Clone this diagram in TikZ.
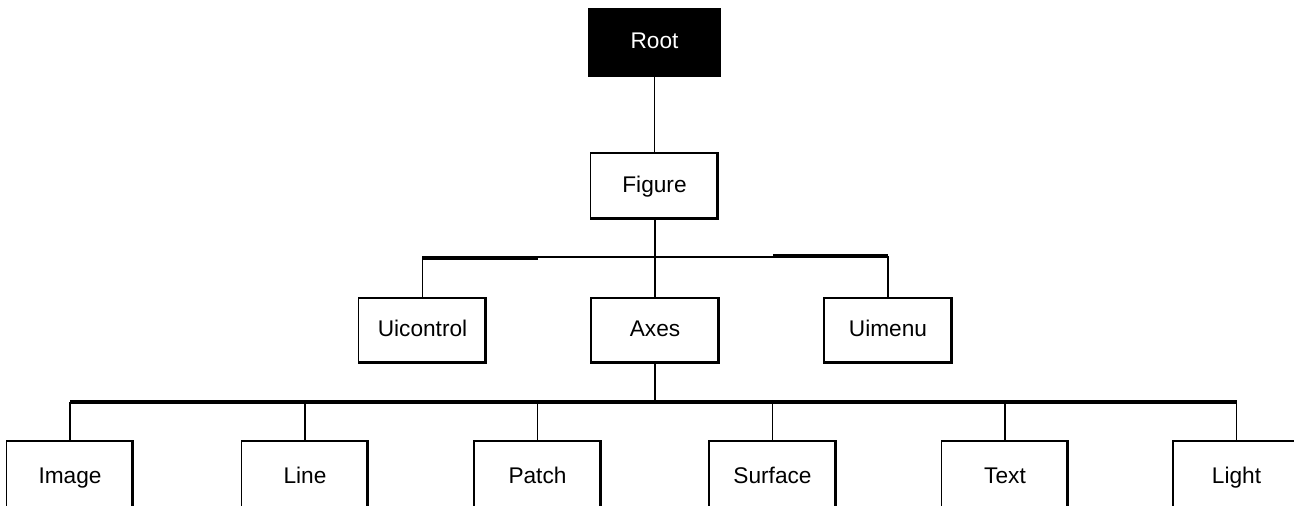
\documentclass[tikz,border=0pt]{standalone}
\usepackage{fontspec}
\setmainfont{Liberation Sans}
\begin{document}
\begin{tikzpicture}[x=0.75pt,y=-0.75pt,
  thin line/.style={line width=1.3*0.75pt, draw=black},
  thick line/.style={line width=3.5*0.75pt, draw=black},
  box/.style={draw=black, line width=1.3*0.75pt, fill=white, inner sep=0pt,
    minimum width=128*0.75pt, minimum height=65*0.75pt,
    text height=12pt, text depth=3pt,
    font=\fontsize{17}{20}\selectfont},
  rootbox/.style={box, fill=black, text=white},
  leaf/.style={box, minimum width=127*0.75pt, minimum height=72*0.75pt}]
\useasboundingbox (0,0) rectangle (1294,506);
% nodes
\node[rootbox, minimum width=131*0.75pt, minimum height=67*0.75pt] (root) at (654.5,42.5) {Root};
\node[box, minimum height=66*0.75pt] (fig) at (654.5,186) {Figure};
\node[box] (uic) at (422.5,330.5) {Uicontrol};
\node[box] (axes) at (655,330.5) {Axes};
\node[box] (uim) at (888,330.5) {Uimenu};
\node[leaf] (img) at (70,477) {Image};
\node[leaf] (line) at (305,477) {Line};
\node[leaf] (patch) at (537.5,477) {Patch};
\node[leaf] (surf) at (772.5,477) {Surface};
\node[leaf] (text) at (1005,477) {Text};
\node[leaf] (light) at (1236.5,477) {Light};
% shadows
\foreach \n in {fig,uic,axes,uim,img,line,patch,surf,text,light}{
  \draw[line width=3*0.75pt] ([xshift=0.75pt,yshift=1.5*0.75pt]\n.south west) -- ([xshift=-1.5*0.75pt,yshift=1.5*0.75pt]\n.south east) -- ([xshift=-1.5*0.75pt]\n.north east);
}
% coordinates of buses
\coordinate (b2) at (655,257);
\coordinate (b3) at (655,402);
\coordinate (t2l) at (538,257);
\coordinate (t2r) at (773,257);
% connectors
\draw[thin line] (root) -- (fig);
\draw[thin line] (fig.south -| axes.north) -- (axes.north);
\draw[thin line] (uic.north) |- (b2) -| (uim.north);
\draw[thick line] ([yshift=-0.75pt]uic.north |- b2) -- ([yshift=-0.75pt]t2l);
\draw[thick line] ([yshift=0.75pt]t2r) -- ([yshift=0.75pt]uim.north |- b2);
\draw[thin line] (axes.south) -- (b3);
\draw[thick line] (img.north |- b3) -- (light.north |- b3);
\foreach \n in {img,line,patch,surf,text,light}{
  \draw[thin line] (\n.north |- b3) -- (\n.north);
}
\end{tikzpicture}
\end{document}
